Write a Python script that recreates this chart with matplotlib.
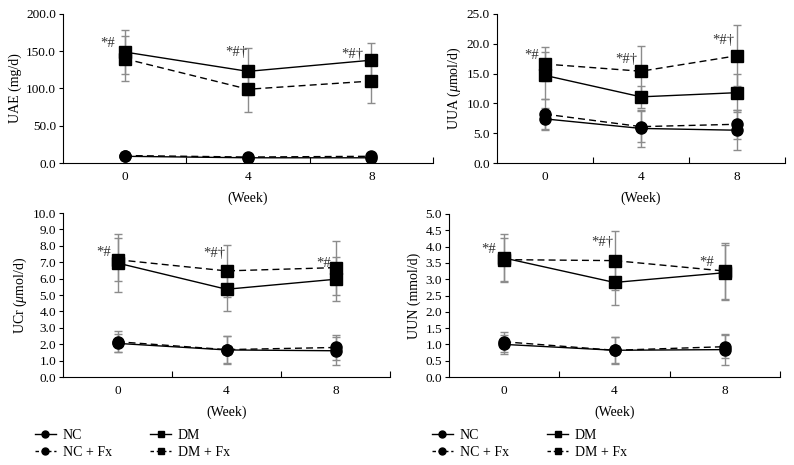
import matplotlib
matplotlib.use("Agg")
import matplotlib.pyplot as plt
from matplotlib.lines import Line2D
import numpy as np

plt.rcParams['font.family'] = ['Liberation Serif', 'DejaVu Serif']
plt.rcParams['mathtext.fontset'] = 'custom'
plt.rcParams['mathtext.it'] = 'Liberation Serif:italic'
plt.rcParams['mathtext.rm'] = 'Liberation Serif'

weeks = [0, 4, 8]
series_names = ["NC", "NC + Fx", "DM", "DM + Fx"]

# UAE (mg/d)
uae_mean = {"NC": [9, 7, 7], "NC + Fx": [10, 8, 9], "DM": [149, 123, 138], "DM + Fx": [140, 99, 110]}
uae_err = {"NC": [3, 2, 2], "NC + Fx": [3, 2, 2], "DM": [30, 32, 23], "DM + Fx": [30, 31, 29]}
# UUA (umol/d)
uua_mean = {"NC": [7.4, 5.8, 5.5], "NC + Fx": [8.2, 6.1, 6.5], "DM": [14.7, 11.1, 11.8], "DM + Fx": [16.6, 15.4, 18.0]}
uua_err = {"NC": [1.8, 3.1, 3.4], "NC + Fx": [2.5, 2.6, 2.4], "DM": [4.0, 1.8, 3.2], "DM + Fx": [2.9, 4.3, 5.1]}
# UCr (umol/d)
ucr_mean = {"NC": [2.05, 1.65, 1.6], "NC + Fx": [2.15, 1.67, 1.8], "DM": [6.95, 5.35, 5.96], "DM + Fx": [7.15, 6.47, 6.67]}
ucr_err = {"NC": [0.55, 0.85, 0.85], "NC + Fx": [0.65, 0.8, 0.75], "DM": [1.75, 1.35, 1.35], "DM + Fx": [1.3, 1.6, 1.65]}
# UUN (mmol/d)
uun_mean = {"NC": [1.0, 0.82, 0.84], "NC + Fx": [1.08, 0.82, 0.93], "DM": [3.65, 2.9, 3.2], "DM + Fx": [3.6, 3.57, 3.25]}
uun_err = {"NC": [0.3, 0.42, 0.48], "NC + Fx": [0.3, 0.4, 0.36], "DM": [0.75, 0.68, 0.85], "DM + Fx": [0.65, 0.9, 0.85]}

ylabels = ["UAE (mg/d)", r"UUA ($\mu$mol/d)", r"UCr ($\mu$mol/d)", "UUN (mmol/d)"]
yticks = [np.arange(0, 200.1, 50), np.arange(0, 25.1, 5), np.arange(0, 10.01, 1), np.arange(0, 5.01, 0.5)]

annot = [
    [(-0.55, 161, "*#"), (3.62, 148, "*#\u2020"), (7.4, 146, "*#\u2020")],
    [(-0.55, 18.0, "*#"), (3.4, 17.4, "*#\u2020"), (7.45, 20.6, "*#\u2020")],
    [(-0.5, 7.6, "*#"), (3.55, 7.56, "*#\u2020"), (7.55, 6.95, "*#")],
    [(-0.55, 3.9, "*#"), (3.55, 4.14, "*#\u2020"), (7.35, 3.5, "*#")],
]

styles = {
    "NC": dict(ls='-', marker='o', ms=8),
    "NC + Fx": dict(ls=(0, (5, 3)), marker='o', ms=8),
    "DM": dict(ls='-', marker='s', ms=9),
    "DM + Fx": dict(ls=(0, (5, 3)), marker='s', ms=9),
}

W, H = 794, 465
fig = plt.figure(figsize=(W / 100, H / 100), dpi=100)

def rect(l, t, r, b):
    return [l / W, 1 - b / H, (r - l) / W, (b - t) / H]

rects = [rect(63, 14, 433, 163), rect(497, 14, 785, 163), rect(63, 213, 390, 377), rect(449, 214, 780, 377)]
datasets = [(uae_mean, uae_err), (uua_mean, uua_err), (ucr_mean, ucr_err), (uun_mean, uun_err)]

for i, (r, (means, errs)) in enumerate(zip(rects, datasets)):
    ax = fig.add_axes(r)
    for name in series_names:
        ax.errorbar(weeks, means[name], yerr=errs[name], fmt='none', ecolor='#8c8c8c',
                    elinewidth=1.0, capsize=3, capthick=1.0, zorder=2)
    for name in series_names:
        st = styles[name]
        ax.plot(weeks, means[name], color='black', lw=1.0, linestyle=st['ls'], marker=st['marker'],
                ms=st['ms'], mfc='black', mec='black', zorder=3)
    ax.set_xlim(-2, 10)
    yt = yticks[i]
    ax.set_ylim(0, yt[-1])
    ax.set_yticks(yt)
    ax.set_yticklabels([f"{v:.1f}" for v in yt], fontsize=9.5)
    ax.set_xticks(weeks)
    ax.set_xticklabels([str(w) for w in weeks], fontsize=9.5)
    ax.tick_params(axis='x', length=0, pad=6)
    ax.set_xticks([2, 6, 10], minor=True)
    ax.tick_params(axis='x', which='minor', direction='in', length=4, width=0.8)
    ax.tick_params(axis='y', direction='out', length=3, width=0.8, pad=2)
    for s in ['top', 'right']:
        ax.spines[s].set_visible(False)
    for s in ['left', 'bottom']:
        ax.spines[s].set_linewidth(0.8)
    ax.set_ylabel(ylabels[i], fontsize=10, labelpad=3)
    ax.set_xlabel("(Week)", fontsize=10, labelpad=6)
    for (x, y, t) in annot[i]:
        ax.text(x, y, t, fontsize=10.5, ha='center', va='center', color='#333333')

def handles():
    hs = []
    for name in series_names:
        st = styles[name]
        hs.append(Line2D([0], [0], color='black', lw=1.0, linestyle=(0, (2.5, 2.0)) if 'Fx' in name else '-',
                         marker=st['marker'], ms=5, mfc='black', mec='black'))
    return hs

for lx in [35 / W, 432 / W]:
    fig.legend(handles(), series_names, loc='center left', bbox_to_anchor=(lx, 1 - 444 / H), ncol=2,
               frameon=False, fontsize=10, handlelength=1.5, handletextpad=0.5,
               columnspacing=2.75, labelspacing=0.25, borderaxespad=0, borderpad=0)

fig.savefig("out.png", dpi=100)
